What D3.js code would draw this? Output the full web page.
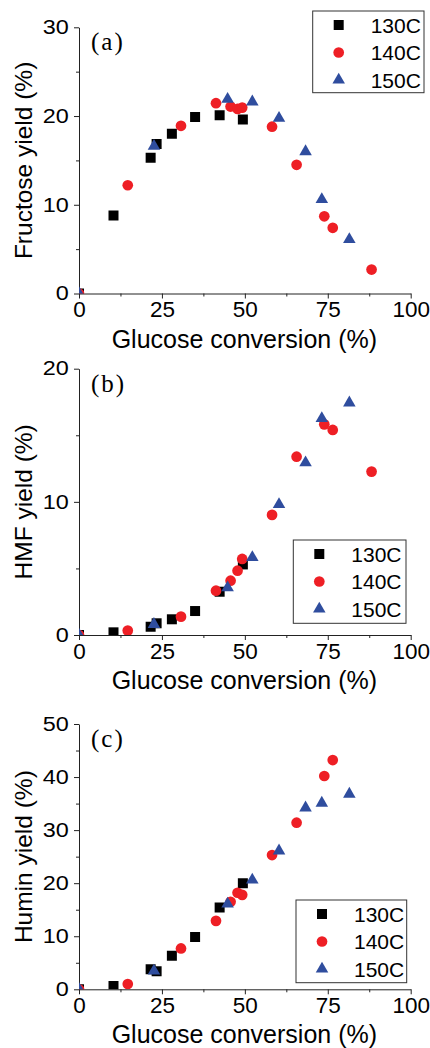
<!DOCTYPE html>
<html>
<head>
<meta charset="utf-8">
<script src="https://cdn.jsdelivr.net/npm/d3@7"></script>
<style>
  html, body { margin: 0; padding: 0; background: #fff; }
  svg { display: block; }
</style>
</head>
<body>
<svg id="chart" width="430" height="1048"></svg>
<script>
// ---------- data ----------
const seriesNames = ["130C", "140C", "150C"];
const xTickValues = [0, 25, 50, 75, 100];

const conv130 = [0, 10.4, 21.6, 23.4, 28.0, 35.0, 42.4, 49.4];
const fructose130 = [0, 8.8, 15.3, 16.85, 18.0, 19.9, 20.1, 19.6];
const hmf130 = [0, 0.2, 0.62, 0.88, 1.18, 1.8, 3.25, 5.3];
const humin130 = [0, 0.6, 3.8, 3.4, 6.3, 9.85, 15.4, 20.0];

const conv140 = [0, 14.7, 30.75, 41.3, 45.7, 47.8, 49.2, 58.2, 65.6, 73.95, 76.5, 88.2];
const fructose140 = [0, 12.2, 18.9, 21.45, 21.07, 20.8, 20.95, 18.8, 14.5, 8.7, 7.4, 2.7];
const hmf140 = [0, 0.33, 1.38, 3.33, 4.08, 4.83, 5.71, 9.02, 13.39, 15.82, 15.4, 12.27];
const humin140 = [0, 1.0, 7.7, 12.9, 16.5, 18.2, 17.8, 25.3, 31.4, 40.2, 43.2, null];

const conv150 = [0, 22.6, 44.8, 52.25, 60.3, 68.3, 73.2, 81.5];
const fructose150 = [0, 16.6, 21.9, 21.6, 19.75, 16.0, 10.6, 6.1];
const hmf150 = [0, 0.8, 3.55, 5.83, 9.81, 12.94, 16.27, 17.44];
const humin150 = [0, 3.45, 16.1, 20.6, 26.1, 34.2, 35.1, 36.8];

const panelLabels = ["(a)", "(b)", "(c)"];
const yTitles = ["Fructose yield (%)", "HMF yield (%)", "Humin yield (%)"];
const yMaxes = [30, 20, 50];
const yTickSets = [[0, 10, 20, 30], [0, 10, 20], [0, 10, 20, 30, 40, 50]];
const xTitle = "Glucose conversion (%)";

// ---------- layout / style ----------
const colors = ["#000000", "#ee1f25", "#2f4d9e"];
const shapes = [d3.symbolSquare, d3.symbolCircle, d3.symbolTriangle];
const sizes = [100, 90, 68];
const X0 = 79, X1 = 410.7;
const panels = [
  { top: 27.3, bottom: 293.5, legend: { x: 312.7, y: 11, w: 111.3, h: 81.7 } },
  { top: 368.7, bottom: 635, legend: { x: 293.3, y: 540, w: 112.7, h: 83.3 } },
  { top: 724, bottom: 989.3, legend: { x: 296, y: 900, w: 110.7, h: 82.7 } }
];
const panelData = [
  [fructose130, fructose140, fructose150],
  [hmf130, hmf140, hmf150],
  [humin130, humin140, humin150]
];
const convs = [conv130, conv140, conv150];

const svg = d3.select("#chart");
const font = "'Liberation Sans', Arial, sans-serif";

const x = d3.scaleLinear().domain([0, 100]).range([X0, X1]);

panels.forEach((p, i) => {
  const y = d3.scaleLinear().domain([0, yMaxes[i]]).range([p.bottom, p.top]);
  const g = svg.append("g");

  const clipId = "clip" + i;
  svg.append("clipPath").attr("id", clipId)
    .append("rect").attr("x", X0).attr("y", p.top - 10)
    .attr("width", X1 - X0 + 10).attr("height", p.bottom - p.top + 10);

  // minor ticks
  const xMinor = d3.range(12.5, 100, 25);
  g.append("g").attr("transform", `translate(0,${p.bottom})`)
    .call(d3.axisBottom(x).tickValues(xMinor).tickSize(3).tickFormat(""))
    .call(a => a.select(".domain").remove());
  const yMinor = d3.range(5, yMaxes[i], 10);
  g.append("g").attr("transform", `translate(${X0},0)`)
    .call(d3.axisLeft(y).tickValues(yMinor).tickSize(3).tickFormat(""))
    .call(a => a.select(".domain").remove());

  // major axes
  const xa = g.append("g").attr("transform", `translate(0,${p.bottom})`)
    .call(d3.axisBottom(x).tickValues(xTickValues).tickSize(5).tickSizeOuter(0).tickPadding(3));
  xa.selectAll("text").attr("font-size", 22.5).attr("font-family", font).attr("fill", "#000");
  const ya = g.append("g").attr("transform", `translate(${X0},0)`)
    .call(d3.axisLeft(y).tickValues(yTickSets[i]).tickSize(5).tickSizeOuter(0));
  ya.selectAll("text").attr("font-size", 19.5).attr("font-family", font).attr("fill", "#000")
    .attr("x", -8.6).attr("transform", "scale(1.2,1)");
  g.selectAll(".domain, .tick line").attr("stroke", "#222").attr("stroke-width", 1);

  // titles
  g.append("text").attr("x", (X0 + X1) / 2 - 0.5).attr("y", p.bottom + 54)
    .attr("text-anchor", "middle").attr("font-family", font).attr("font-size", 25)
    .text(xTitle);
  g.append("text")
    .attr("transform", `translate(31.5,${(p.top + p.bottom) / 2}) rotate(-90)`)
    .attr("text-anchor", "middle").attr("font-family", font).attr("font-size", 24.5)
    .text(yTitles[i]);

  // panel label
  g.append("text").attr("x", 91).attr("y", p.top + 23)
    .attr("font-family", "'Liberation Serif', 'Times New Roman', serif")
    .attr("font-size", 25).attr("letter-spacing", 2)
    .text(panelLabels[i]);

  // points
  const pts = g.append("g").attr("clip-path", `url(#${clipId})`);
  panelData[i].forEach((vals, s) => {
    const data = convs[s].map((c, k) => ({ c, v: vals[k] })).filter(d => d.v !== null && d.v !== undefined);
    pts.selectAll(null).data(data).enter().append("path")
      .attr("d", d3.symbol().type(shapes[s]).size(sizes[s]))
      .attr("transform", d => `translate(${x(d.c)},${y(d.v)})`)
      .attr("fill", colors[s]);
  });

  // legend
  const L = p.legend;
  const lg = g.append("g");
  lg.append("rect").attr("x", L.x).attr("y", L.y).attr("width", L.w).attr("height", L.h)
    .attr("fill", "#fff").attr("stroke", "#333").attr("stroke-width", 1);
  seriesNames.forEach((name, s) => {
    const cy = L.y + 14 + s * 27.5;
    lg.append("path").attr("d", d3.symbol().type(shapes[s]).size(sizes[s]))
      .attr("transform", `translate(${L.x + 26},${cy})`).attr("fill", colors[s]);
    lg.append("text").attr("x", L.x + 58).attr("y", cy + 7.5)
      .attr("font-family", font).attr("font-size", 21).text(name);
  });
});
</script>
</body>
</html>
